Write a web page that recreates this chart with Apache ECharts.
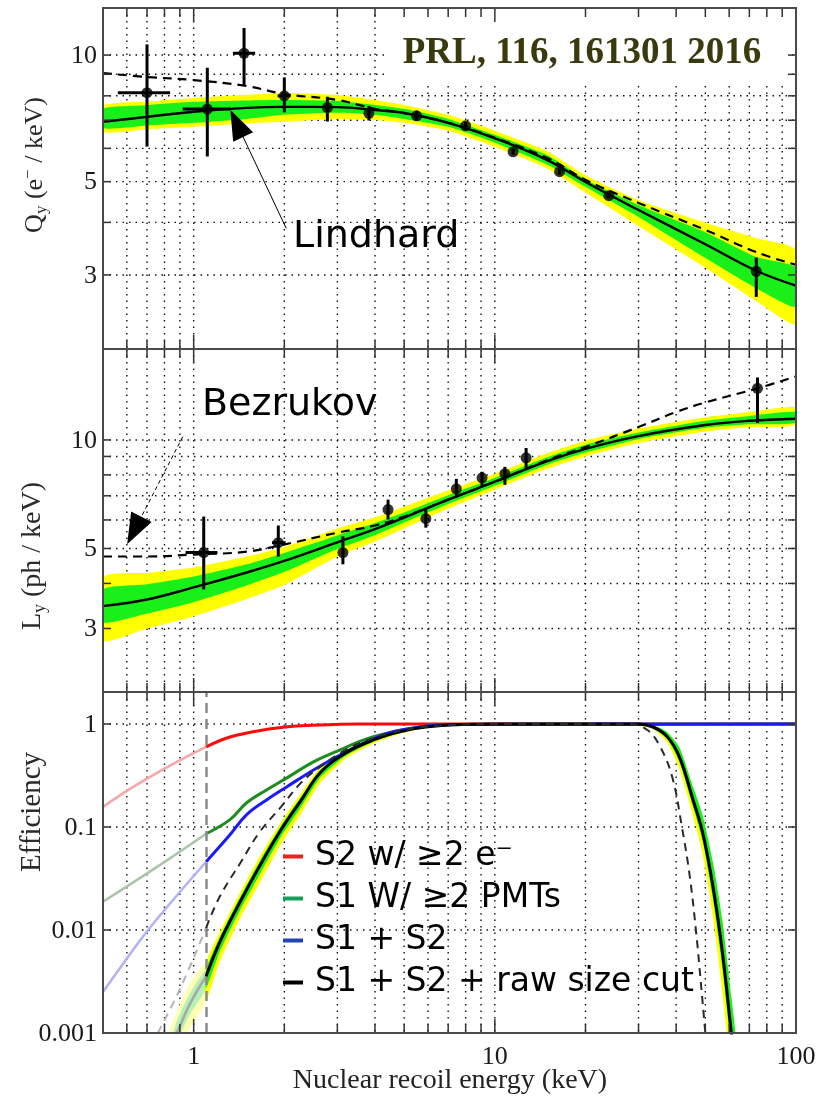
<!DOCTYPE html>
<html>
<head>
<meta charset="utf-8">
<title>Qy, Ly and detection efficiency vs nuclear recoil energy</title>
<script src="https://cdn.jsdelivr.net/npm/echarts@6.0.0/dist/echarts.min.js"></script>
<style>
  html, body { margin: 0; padding: 0; background: #ffffff; }
  #chart { width: 831px; height: 1100px; }
</style>
</head>
<body>
<div id="chart"></div>
<script>
// ---------- shared energy axis (keV) ----------
const energyGridLines = [0.6, 0.7, 0.8, 0.9, 1, 2, 3, 4, 5, 6, 7, 8, 9, 10, 20, 30, 40, 50, 60, 70, 80, 90];
const energyTickValues = [1, 10, 100];
const energyTickLabels = ['1', '10', '100'];

// ---------- charge yield Qy (e- / keV) ----------
const qyGridLines = [3, 4, 5, 6, 7, 8, 9, 10];
const qyTickValues = [3, 5, 10];
const qyTickLabels = ['3', '5', '10'];
const qyCurveE = [0.5, 0.7, 1, 1.5, 2, 3, 4, 5, 7, 10, 15, 20, 30, 50, 73.8, 100];
const qyFit     = [6.94, 7.13, 7.33, 7.49, 7.53, 7.52, 7.40, 7.28, 6.90, 6.34, 5.62, 4.99, 4.28, 3.55, 3.07, 2.83];
const qyFit1sLo = [6.71, 6.80, 6.90, 7.05, 7.21, 7.29, 7.21, 7.05, 6.75, 6.19, 5.48, 4.86, 4.12, 3.29, 2.79, 2.52];
const qyFit1sHi = [7.45, 7.60, 7.74, 7.80, 7.82, 7.78, 7.61, 7.45, 7.05, 6.46, 5.77, 5.06, 4.40, 3.79, 3.31, 3.12];
const qyFit2sLo = [6.57, 6.66, 6.75, 6.88, 6.94, 7.05, 7.01, 6.90, 6.61, 6.05, 5.36, 4.71, 3.92, 3.12, 2.60, 2.29];
const qyFit2sHi = [7.57, 7.75, 7.91, 8.05, 8.13, 8.04, 7.82, 7.61, 7.21, 6.61, 5.90, 5.18, 4.52, 3.99, 3.67, 3.44];
const qyAltModel = [9.06, 8.87, 8.72, 8.44, 8.08, 7.82, 7.45, 7.28, 6.90, 6.36, 5.68, 5.05, 4.45, 3.84, 3.40, 3.17];
const qyPointE   = [0.70, 1.11, 1.47, 2.00, 2.78, 3.82, 5.5, 8.0, 11.5, 16.4, 23.9, 73.8];
const qyPointVal = [8.14, 7.44, 10.1, 8.00, 7.50, 7.27, 7.17, 6.79, 5.89, 5.28, 4.63, 3.06];
const qyPointLo  = [6.06, 5.74, 8.49, 7.31, 6.95, 6.99, 6.98, 6.64, 5.79, 5.19, 4.56, 2.66];
const qyPointHi  = [10.6, 9.33, 11.6, 8.85, 7.96, 7.57, 7.37, 6.94, 5.99, 5.37, 4.71, 3.30];
const qyPointELo = [0.56, 0.92, 1.35, 1.90, 2.78, 3.82, 5.5, 8.0, 11.5, 16.4, 23.9, 73.8];
const qyPointEHi = [0.835, 1.32, 1.60, 2.10, 2.78, 3.82, 5.5, 8.0, 11.5, 16.4, 23.9, 73.8];

// ---------- light yield Ly (ph / keV) ----------
const lyGridLines = [3, 4, 5, 6, 7, 8, 9, 10];
const lyTickValues = [3, 5, 10];
const lyTickLabels = ['3', '5', '10'];
const lyCurveE = [0.5, 0.7, 1, 1.5, 2, 3, 4, 5, 7, 10, 15, 20, 30, 50, 70, 100];
const lyFit     = [3.46, 3.61, 3.90, 4.29, 4.62, 5.20, 5.66, 6.09, 6.83, 7.66, 8.75, 9.45, 10.25, 11.0, 11.3, 11.45];
const lyFit1sLo = [3.12, 3.30, 3.55, 3.95, 4.30, 4.98, 5.44, 5.90, 6.64, 7.46, 8.55, 9.23, 10.05, 10.8, 11.05, 11.14];
const lyFit1sHi = [3.85, 3.98, 4.18, 4.52, 4.86, 5.43, 5.88, 6.29, 7.02, 7.85, 8.97, 9.70, 10.48, 11.3, 11.65, 11.95];
const lyFit2sLo = [2.78, 3.00, 3.24, 3.62, 3.96, 4.75, 5.23, 5.68, 6.45, 7.28, 8.33, 9.00, 9.80, 10.55, 10.85, 11.0];
const lyFit2sHi = [4.16, 4.28, 4.43, 4.75, 5.05, 5.68, 6.10, 6.53, 7.25, 8.06, 9.20, 9.95, 10.75, 11.55, 11.95, 12.3];
const lyAltE     = [0.5, 0.7, 1, 1.5, 2, 3, 4, 5, 7, 10, 15, 20, 30, 40, 50, 74.5, 100];
const lyAltModel = [4.75, 4.75, 4.81, 4.90, 5.13, 5.53, 5.79, 6.13, 6.83, 7.66, 8.80, 9.56, 10.86, 11.95, 12.7, 13.9, 15.0];
const lyPointE   = [1.08, 1.91, 3.13, 4.42, 5.9, 7.45, 9.07, 10.8, 12.7, 74.5];
const lyPointVal = [4.87, 5.19, 4.87, 6.41, 6.05, 7.32, 7.85, 8.06, 8.92, 13.9];
const lyPointLo  = [3.85, 4.75, 4.52, 6.02, 5.71, 6.91, 7.42, 7.51, 8.37, 11.14];
const lyPointHi  = [6.13, 5.79, 5.40, 6.83, 6.49, 7.80, 8.16, 8.42, 9.50, 14.9];
const lyPointELo = [0.94, 1.82, 3.13, 4.42, 5.9, 7.45, 9.07, 10.8, 12.7, 74.5];
const lyPointEHi = [1.20, 2.02, 3.13, 4.42, 5.9, 7.45, 9.07, 10.8, 12.7, 74.5];

// ---------- detection efficiency ----------
const effGridLines = [0.01, 0.1, 1];
const effTickValues = [0.001, 0.01, 0.1, 1];
const effTickLabels = ['0.001', '0.01', '0.1', '1'];
const thresholdE = 1.1;

const s2FadeE = [0.5, 0.63, 0.82, 1.1];
const s2Fade  = [0.157, 0.245, 0.384, 0.60];
const s2E     = [1.1, 1.32, 1.7, 2.2, 2.8, 3.5, 100];
const s2Eff   = [0.60, 0.748, 0.875, 0.956, 0.985, 1.0, 1.0];

const s1FadeE = [0.5, 0.63, 0.82, 1.1];
const s1Fade  = [0.0188, 0.029, 0.048, 0.086];
const s1E     = [1.1, 1.32, 1.5, 1.75, 2.04, 2.5, 3.06, 3.75, 4.6, 5.65, 7, 100];
const s1Eff   = [0.086, 0.118, 0.172, 0.23, 0.30, 0.429, 0.56, 0.716, 0.84, 0.935, 0.99, 1.0];

const s12FadeE = [0.5, 0.68, 0.82, 1.1];
const s12Fade  = [0.0025, 0.0087, 0.017, 0.046];
const s12E     = [1.1, 1.32, 1.5, 1.75, 2.04, 2.5, 3.06, 3.75, 4.6, 5.65, 7, 100];
const s12Eff   = [0.046, 0.084, 0.132, 0.184, 0.246, 0.358, 0.50, 0.67, 0.84, 0.935, 0.99, 1.0];

const cutFadeE = [0.85, 0.88, 0.97, 1.1];
const cutFade  = [0.0008, 0.001, 0.0019, 0.00356];
const cutE     = [1.1, 1.22, 1.43, 1.65, 1.95, 2.27, 2.63, 3.2, 3.95, 4.83, 5.9, 8, 10, 29.5, 33.5, 37.4, 41, 45.5, 49, 53, 57, 61, 63];
const cutEff   = [0.00356, 0.0076, 0.019, 0.041, 0.094, 0.18, 0.336, 0.524, 0.70, 0.84, 0.935, 0.99, 1.0, 1.0, 0.935, 0.75, 0.48, 0.184, 0.088, 0.0264, 0.006, 0.001, 0.00043];

const cutBandRiseE  = [1.1, 1.22, 1.43, 1.65, 1.95, 2.27, 2.63, 3.2, 3.95, 4.83, 5.9, 8, 10];
const cut2sRiseHi   = [0.00482, 0.0095, 0.0234, 0.0507, 0.112, 0.212, 0.380, 0.561, 0.731, 0.864, 0.948, 0.998, 1.0];
const cut2sRiseLo   = [0.00205, 0.0049, 0.0131, 0.028, 0.0684, 0.134, 0.268, 0.463, 0.647, 0.799, 0.912, 0.977, 0.995];
const cut1sRiseHi   = [0.00414, 0.0085, 0.0211, 0.0456, 0.1027, 0.1953, 0.3575, 0.5424, 0.7152, 0.852, 0.942, 0.994, 1.0];
const cut1sRiseLo   = [0.00271, 0.0061, 0.0158, 0.0338, 0.0802, 0.1553, 0.3004, 0.4925, 0.673, 0.819, 0.924, 0.984, 0.998];
const cutBandFallE  = [29.5, 33.5, 37.4, 41, 45.5, 49, 53, 57, 61, 63];
const cut2sFallHi   = [1.0, 0.962, 0.811, 0.564, 0.229, 0.1177, 0.0399, 0.01028, 0.00184, 0.00079];
const cut2sFallLo   = [0.99, 0.891, 0.659, 0.367, 0.1276, 0.0544, 0.01333, 0.00245, 0.000365, 0.00016];
const cut1sFallHi   = [1.0, 0.971, 0.833, 0.595, 0.247, 0.1295, 0.0457, 0.0123, 0.00224, 0.00096];
const cut1sFallLo   = [0.998, 0.917, 0.712, 0.431, 0.159, 0.0727, 0.0201, 0.0042, 0.00067, 0.00029];
const cutBandFadeE  = [0.78, 0.88, 0.97, 1.1];
const cut2sFadeHi   = [0.0006, 0.0016, 0.003, 0.00482];
const cut2sFadeLo   = [0.00015, 0.0006, 0.0011, 0.00205];
const cut1sFadeHi   = [0.0004, 0.0013, 0.0024, 0.00414];
const cut1sFadeLo   = [0.0002, 0.0008, 0.0015, 0.00271];

const simFadeE = [0.76, 0.9, 1.1];
const simFade  = [0.001, 0.00266, 0.0105];
const simE     = [1.1, 1.22, 1.43, 1.65, 1.95, 2.27, 2.63, 3.2, 3.95, 4.83, 5.9, 8, 10, 28, 32.1, 35.4, 38.8, 41.8, 44.4, 46.6, 48.3, 50, 51];
const simEff   = [0.0105, 0.021, 0.045, 0.088, 0.157, 0.268, 0.384, 0.56, 0.73, 0.855, 0.94, 0.99, 1.0, 1.0, 0.875, 0.60, 0.307, 0.10, 0.033, 0.0095, 0.0031, 0.001, 0.00052];

const legendNames = ['S2 w/ \u22652 e\u207B', 'S1 W/ \u22652 PMTs', 'S1 + S2', 'S1 + S2 + raw size cut'];

// ---------- layout & styling ----------
const SERIF = "'Liberation Serif', 'Times New Roman', serif";
const SANS = "'DejaVu Sans', sans-serif";
const E_MIN = 0.5, E_MAX = 100;
const panels = [
  { top: 8,   height: 341, yMin: 2,     yMax: 12.94 },
  { top: 349, height: 343, yMin: 2,     yMax: 17.87 },
  { top: 692, height: 341, yMin: 0.001, yMax: 2.045 }
];
const YELLOW = '#ffff00', GREEN = '#19f019';

const pairs = (xs, ys) => xs.map((x, i) => [x, ys[i]]);

function curve(g, name, xs, ys, color, width, dash, extra) {
  return Object.assign({
    type: 'line', name, xAxisIndex: g, yAxisIndex: g,
    data: pairs(xs, ys), smooth: 0.4, symbol: 'none', silent: true, z: 4,
    lineStyle: { color, width, type: dash || 'solid' }, itemStyle: { color }
  }, extra || {});
}

function band(g, xs, lo, hi, color, z) {
  return {
    type: 'custom', xAxisIndex: g, yAxisIndex: g, silent: true, clip: true, z,
    data: xs.map((x, i) => [x, lo[i], hi[i]]),
    encode: { x: 0, y: [1, 2] },
    renderItem(params, api) {
      if (params.dataIndexInside !== 0) return;
      const n = params.dataInsideLength;
      const upper = [], lower = [];
      for (let i = 0; i < n; i++) {
        upper.push(api.coord([api.value(0, i), api.value(2, i)]));
        lower.push(api.coord([api.value(0, i), api.value(1, i)]));
      }
      return { type: 'polygon', shape: { points: upper.concat(lower.reverse()), smooth: 0.2 }, style: { fill: color } };
    }
  };
}

function errorBars(g, xs, ys, lo, hi, xlo, xhi) {
  return {
    type: 'custom', xAxisIndex: g, yAxisIndex: g, silent: true, clip: true, z: 6,
    data: xs.map((x, i) => [x, ys[i], lo[i], hi[i], xlo[i], xhi[i]]),
    encode: { x: [0, 4, 5], y: [1, 2, 3] },
    renderItem(params, api) {
      const x = api.value(0), y = api.value(1);
      const a = api.coord([x, api.value(2)]), b = api.coord([x, api.value(3)]);
      const c = api.coord([api.value(4), y]), d = api.coord([api.value(5), y]);
      const st = { stroke: '#000', lineWidth: 3 };
      return { type: 'group', children: [
        { type: 'line', shape: { x1: a[0], y1: a[1], x2: b[0], y2: b[1] }, style: st },
        { type: 'line', shape: { x1: c[0], y1: c[1], x2: d[0], y2: d[1] }, style: st }
      ] };
    }
  };
}

function markers(g, xs, ys) {
  return { type: 'scatter', xAxisIndex: g, yAxisIndex: g, silent: true, z: 7,
    data: pairs(xs, ys), symbol: 'circle', symbolSize: 11, itemStyle: { color: '#000' } };
}

// dotted grid lines
function energyGrid(g) {
  const yRef = panels[g].yMin;
  return {
    type: 'custom', xAxisIndex: g, yAxisIndex: g, silent: true, clip: true, z: 1,
    data: energyGridLines.map(v => [v, yRef]),
    renderItem(params, api) {
      const cs = params.coordSys;
      const px = api.coord([api.value(0), api.value(1)])[0];
      return { type: 'line', shape: { x1: px, y1: cs.y, x2: px, y2: cs.y + cs.height },
        style: { stroke: '#111', lineWidth: 1.4, lineDash: [1.5, 5] } };
    }
  };
}
function valueGrid(g, vals) {
  return {
    type: 'custom', xAxisIndex: g, yAxisIndex: g, silent: true, clip: true, z: 1,
    data: vals.map(v => [E_MIN, v]),
    renderItem(params, api) {
      const cs = params.coordSys;
      const py = api.coord([api.value(0), api.value(1)])[1];
      return { type: 'line', shape: { x1: cs.x, y1: py, x2: cs.x + cs.width, y2: py },
        style: { stroke: '#111', lineWidth: 1.4, lineDash: [1.5, 5] } };
    }
  };
}
// frame and tick marks
function energyTicks(g) {
  const yRef = panels[g].yMin;
  return {
    type: 'custom', xAxisIndex: g, yAxisIndex: g, silent: true, clip: false, z: 10,
    data: energyGridLines.map(v => [v, yRef]),
    renderItem(params, api) {
      const cs = params.coordSys;
      const v = api.value(0);
      const px = api.coord([v, api.value(1)])[0];
      const len = (v === 1 || v === 10) ? 14 : 9;
      const st = { stroke: '#333', lineWidth: 1.5 };
      return { type: 'group', children: [
        { type: 'line', shape: { x1: px, y1: cs.y, x2: px, y2: cs.y + len }, style: st },
        { type: 'line', shape: { x1: px, y1: cs.y + cs.height - len, x2: px, y2: cs.y + cs.height }, style: st }
      ] };
    }
  };
}
function valueTicks(g, vals) {
  return {
    type: 'custom', xAxisIndex: g, yAxisIndex: g, silent: true, clip: false, z: 10,
    data: vals.map(v => [E_MIN, v]),
    renderItem(params, api) {
      const cs = params.coordSys;
      const py = api.coord([api.value(0), api.value(1)])[1];
      const st = { stroke: '#333', lineWidth: 1.5 };
      return { type: 'group', children: [
        { type: 'line', shape: { x1: cs.x, y1: py, x2: cs.x + 8, y2: py }, style: st },
        { type: 'line', shape: { x1: cs.x + cs.width - 8, y1: py, x2: cs.x + cs.width, y2: py }, style: st }
      ] };
    }
  };
}
function frame(g) {
  return {
    type: 'custom', xAxisIndex: g, yAxisIndex: g, silent: true, clip: false, z: 11,
    data: [[E_MIN, panels[g].yMin]],
    renderItem(params) {
      const cs = params.coordSys;
      return { type: 'rect', shape: { x: cs.x, y: cs.y, width: cs.width, height: cs.height },
        style: { fill: null, stroke: '#4a4a4a', lineWidth: 2 } };
    }
  };
}
function valueLabels(g, vals, texts) {
  return {
    type: 'custom', xAxisIndex: g, yAxisIndex: g, silent: true, clip: false, z: 10,
    data: vals.map(v => [E_MIN, v]),
    renderItem(params, api) {
      const cs = params.coordSys;
      const py = api.coord([api.value(0), api.value(1)])[1];
      return { type: 'text', x: cs.x - 6, y: py + 1,
        style: { text: texts[params.dataIndex], font: '26px ' + SERIF, fill: '#1a1a1a', align: 'right', verticalAlign: 'middle' } };
    }
  };
}
function energyLabels(g, vals, texts) {
  const yRef = panels[g].yMin;
  return {
    type: 'custom', xAxisIndex: g, yAxisIndex: g, silent: true, clip: false, z: 10,
    data: vals.map(v => [v, yRef]),
    renderItem(params, api) {
      const cs = params.coordSys;
      const px = api.coord([api.value(0), api.value(1)])[0];
      return { type: 'text', x: px, y: cs.y + cs.height + 24,
        style: { text: texts[params.dataIndex], font: '26px ' + SERIF, fill: '#1a1a1a', align: 'center', verticalAlign: 'middle' } };
    }
  };
}

const grids = panels.map(p => ({ left: 103, width: 693, top: p.top, height: p.height, containLabel: false }));
const xAxes = panels.map((p, g) => ({
  type: 'log', logBase: 10, gridIndex: g, min: E_MIN, max: E_MAX,
  axisLine: { show: false }, axisTick: { show: false }, axisLabel: { show: false }, splitLine: { show: false }
}));
const yAxes = panels.map((p, g) => ({
  type: 'log', logBase: 10, gridIndex: g, min: p.yMin, max: p.yMax,
  axisLine: { show: false }, axisTick: { show: false }, axisLabel: { show: false }, splitLine: { show: false }
}));

const fadeRed = '#f5a8a8', fadeGreen = '#a9c6a9', fadeBlue = '#b3b3f5', fadeGray = '#a8a8a8';

const series = [
  // ---- panel 0: Qy ----
  energyGrid(0), valueGrid(0, qyGridLines),
  band(0, qyCurveE, qyFit2sLo, qyFit2sHi, YELLOW, 2),
  band(0, qyCurveE, qyFit1sLo, qyFit1sHi, GREEN, 3),
  curve(0, 'Qy alt', qyCurveE, qyAltModel, '#000', 2.2, [9, 6]),
  curve(0, 'Qy fit', qyCurveE, qyFit, '#000', 2.4, 'solid', {
    markLine: {
      silent: true, animation: false, label: { show: false }, symbol: ['none', 'none'],
      lineStyle: { color: '#000', width: 1, type: 'solid' },
      data: [[
        { coord: [2.03, 3.87], symbol: 'none' },
        { coord: [1.39, 6.88], symbol: 'triangle', symbolSize: [22, 30], itemStyle: { color: '#000' } }
      ]]
    }
  }),
  errorBars(0, qyPointE, qyPointVal, qyPointLo, qyPointHi, qyPointELo, qyPointEHi),
  markers(0, qyPointE, qyPointVal),
  energyTicks(0), valueTicks(0, qyGridLines), frame(0), valueLabels(0, qyTickValues, qyTickLabels),

  // ---- panel 1: Ly ----
  energyGrid(1), valueGrid(1, lyGridLines),
  band(1, lyCurveE, lyFit2sLo, lyFit2sHi, YELLOW, 2),
  band(1, lyCurveE, lyFit1sLo, lyFit1sHi, GREEN, 3),
  curve(1, 'Ly alt', lyAltE, lyAltModel, '#000', 2.2, [9, 6], {
    markLine: {
      silent: true, animation: false, label: { show: false }, symbol: ['none', 'none'],
      lineStyle: { color: '#000', width: 1, type: [4, 3] },
      data: [[
        { coord: [0.92, 10.21], symbol: 'none' },
        { coord: [0.635, 5.61], symbol: 'triangle', symbolSize: [23, 31], itemStyle: { color: '#000' } }
      ]]
    }
  }),
  curve(1, 'Ly fit', lyCurveE, lyFit, '#000', 2.4),
  errorBars(1, lyPointE, lyPointVal, lyPointLo, lyPointHi, lyPointELo, lyPointEHi),
  markers(1, lyPointE, lyPointVal),
  energyTicks(1), valueTicks(1, lyGridLines), frame(1), valueLabels(1, lyTickValues, lyTickLabels),

  // ---- panel 2: efficiency ----
  energyGrid(2), valueGrid(2, effGridLines),
  curve(2, 's2 fade', s2FadeE, s2Fade, fadeRed, 2.6),
  curve(2, 's1 fade', s1FadeE, s1Fade, fadeGreen, 2.6),
  curve(2, 's12 fade', s12FadeE, s12Fade, fadeBlue, 2.6),
  band(2, cutBandFadeE, cut2sFadeLo, cut2sFadeHi, '#ffffb4', 3),
  band(2, cutBandFadeE, cut1sFadeLo, cut1sFadeHi, '#b6f2b6', 3),
  curve(2, 'cut fade', cutFadeE, cutFade, fadeGray, 2.6),
  curve(2, 'sim fade', simFadeE, simFade, '#b5b5b5', 2, [8, 6]),
  curve(2, legendNames[0], s2E, s2Eff, '#ff0a0a', 3, 'solid', {
    markLine: {
      silent: true, animation: false, label: { show: false }, symbol: ['none', 'none'],
      lineStyle: { color: '#8a8a8a', width: 2.5, type: [10, 6] },
      data: [{ xAxis: thresholdE }]
    }
  }),
  curve(2, legendNames[1], s1E, s1Eff, '#1e8c1e', 3),
  curve(2, legendNames[2], s12E, s12Eff, '#1a1aff', 3),
  band(2, cutBandRiseE, cut2sRiseLo, cut2sRiseHi, YELLOW, 4),
  band(2, cutBandRiseE, cut1sRiseLo, cut1sRiseHi, GREEN, 4),
  band(2, cutBandFallE, cut2sFallLo, cut2sFallHi, YELLOW, 4),
  band(2, cutBandFallE, cut1sFallLo, cut1sFallHi, GREEN, 4),
  curve(2, legendNames[3], cutE, cutEff, '#000', 3, 'solid', { z: 5 }),
  curve(2, 'sim', simE, simEff, '#2a2a2a', 2, [8, 6], { z: 5 }),
  energyTicks(2), valueTicks(2, effGridLines), frame(2), valueLabels(2, effTickValues, effTickLabels),
  energyLabels(2, energyTickValues, energyTickLabels)
];

function titleRich(size) {
  const sub = Math.round(size * 0.65);
  return {
    m: { fontFamily: SERIF, fontSize: size, fill: '#2a2a2a', lineHeight: size + 4 },
    s: { fontFamily: SERIF, fontSize: sub, fill: '#2a2a2a', lineHeight: 8, verticalAlign: 'bottom' },
    p: { fontFamily: SERIF, fontSize: sub, fill: '#2a2a2a', lineHeight: 12, verticalAlign: 'top' }
  };
}

const option = {
  animation: false,
  backgroundColor: '#ffffff',
  grid: grids,
  xAxis: xAxes,
  yAxis: yAxes,
  legend: {
    orient: 'vertical', left: 283, top: 840, padding: 0, itemGap: 9,
    itemWidth: 20, itemHeight: 4, icon: 'rect', selectedMode: false, z: 12,
    textStyle: { fontFamily: SANS, fontSize: 33, color: '#000', padding: [0, 0, 0, 7] },
    data: [
      { name: legendNames[0], itemStyle: { color: '#ee2020' } },
      { name: legendNames[1], itemStyle: { color: '#12a05a' } },
      { name: legendNames[2], itemStyle: { color: '#2244b4' } },
      { name: legendNames[3], itemStyle: { color: '#000000' } }
    ]
  },
  graphic: [
    { type: 'rect', z: 8, silent: true, shape: { x: 385, y: 14, width: 404, height: 68 }, style: { fill: '#ffffff' } },
    { type: 'text', z: 9, silent: true, x: 582, y: 53,
      style: { text: 'PRL, 116, 161301 2016', font: 'bold 37px ' + SERIF, fill: '#3b3a0e', align: 'center', verticalAlign: 'middle' } },
    { type: 'text', z: 9, silent: true, x: 293, y: 237,
      style: { text: 'Lindhard', font: '38px ' + SANS, fill: '#000', align: 'left', verticalAlign: 'middle' } },
    { type: 'text', z: 9, silent: true, x: 202, y: 405,
      style: { text: 'Bezrukov', font: '38px ' + SANS, fill: '#000', align: 'left', verticalAlign: 'middle' } },
    { type: 'text', z: 9, silent: true, x: 35, y: 165, rotation: Math.PI / 2,
      style: { text: '{m|Q}{s|y}{m| (e}{p|\u2212}{m| / keV)}', rich: titleRich(26), align: 'center', verticalAlign: 'middle' } },
    { type: 'text', z: 9, silent: true, x: 33, y: 556, rotation: Math.PI / 2,
      style: { text: '{m|L}{s|y}{m| (ph / keV)}', rich: titleRich(28), align: 'center', verticalAlign: 'middle' } },
    { type: 'text', z: 9, silent: true, x: 32, y: 812, rotation: Math.PI / 2,
      style: { text: '{m|Efficiency}', rich: titleRich(29), align: 'center', verticalAlign: 'middle' } },
    { type: 'text', z: 9, silent: true, x: 450, y: 1081,
      style: { text: 'Nuclear recoil energy (keV)', font: '28px ' + SERIF, fill: '#222', align: 'center', verticalAlign: 'middle' } }
  ],
  series
};

const chart = echarts.init(document.getElementById('chart'), null, { renderer: 'canvas' });
chart.setOption(option);
</script>
</body>
</html>
